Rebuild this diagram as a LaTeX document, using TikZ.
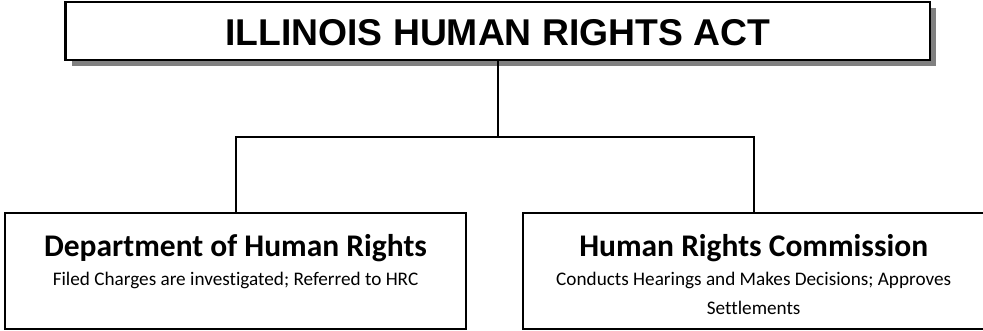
\documentclass[tikz,border=0pt]{standalone}
\usepackage{fontspec}
\newfontfamily\titlefont{Liberation Sans}
\newfontfamily\bodyfont[Ligatures=NoCommon]{Carlito}
\definecolor{shadowgray}{HTML}{808080}
\begin{document}
\begin{tikzpicture}[x=1pt,y=-1pt,
  box/.style={draw=black, line width=2pt, fill=white, inner sep=0pt},
  wire/.style={draw=black, line width=2pt},
  heading/.style={font=\bodyfont\bfseries\fontsize{31.5}{36}\selectfont, anchor=base, inner sep=0pt},
  subline/.style={font=\bodyfont\fontsize{19.2}{29}\selectfont, anchor=base, inner sep=0pt}]
\useasboundingbox (0,0) rectangle (983,330);
% title box with shadow
\fill[shadowgray] (71.5,8) rectangle (936,66);
\node[box, line width=2.5pt, minimum width=864.5pt, minimum height=58pt] (act) at (497.75,31) {};
\node[font=\titlefont\bfseries\fontsize{37.3}{40}\selectfont, inner sep=0pt] (acttext) at (497.75,32.5) {ILLINOIS HUMAN RIGHTS ACT};
% bottom boxes
\node[box, minimum width=461pt, minimum height=115.4pt] (dhr) at (235.5,271) {};
\node[box, minimum width=462pt, minimum height=115.4pt] (hrc) at (753.7,271) {};
% connectors
\coordinate (junction) at (497.75,136.7);
\draw[wire] (act.south) -- (junction);
\draw[wire] (junction) -| (dhr.north);
\draw[wire] (junction) -| (hrc.north);
% texts
\node[heading] (dhrhead) at (235.5,256) {Department of Human Rights};
\node[subline] (dhrsub) at (235.5,285) {Filed Charges are investigated; Referred to HRC};
\node[heading] (hrchead) at (753.7,256) {Human Rights Commission};
\node[subline] (hrcsub1) at (753.7,285) {Conducts Hearings and Makes Decisions; Approves};
\node[subline] (hrcsub2) at (753.7,314) {Settlements};
\end{tikzpicture}
\end{document}
